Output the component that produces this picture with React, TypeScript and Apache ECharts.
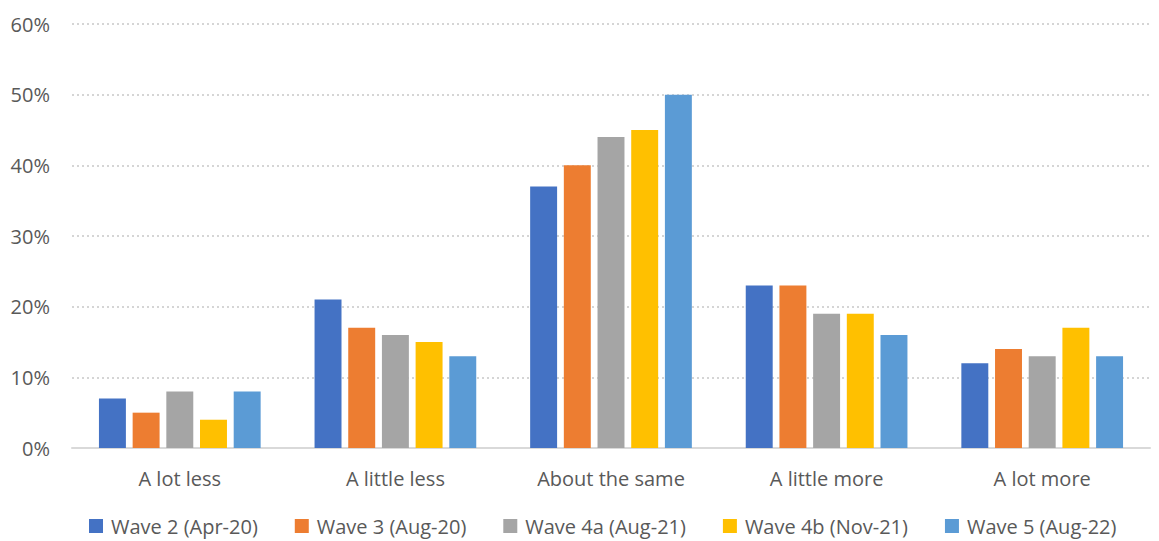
import React, { useEffect, useRef } from "react";
import * as echarts from "echarts";

const categories = ["A lot less", "A little less", "About the same", "A little more", "A lot more"];
const seriesNames = ["Wave 2 (Apr-20)", "Wave 3 (Aug-20)", "Wave 4a (Aug-21)", "Wave 4b (Nov-21)", "Wave 5 (Aug-22)"];
const wave2 = [7, 21, 37, 23, 12];
const wave3 = [5, 17, 40, 23, 14];
const wave4a = [8, 16, 44, 19, 13];
const wave4b = [4, 15, 45, 19, 17];
const wave5 = [8, 13, 50, 16, 13];
const colors = ["#4472C4", "#ED7D31", "#A5A5A5", "#FFC000", "#5B9BD5"];

export default function App() {
  const ref = useRef<HTMLDivElement>(null);
  useEffect(() => {
    if (!ref.current) return;
    const chart = echarts.init(ref.current, undefined, { renderer: "svg" });
    const data = [wave2, wave3, wave4a, wave4b, wave5];
    chart.setOption({
      animation: false,
      backgroundColor: "#ffffff",
      textStyle: { fontFamily: "Open Sans", color: "#595959" },
      grid: { left: 72, right: 9, top: 24, bottom: 93, containLabel: false },
      legend: {
        top: 511,
        left: 84,
        itemWidth: 14,
        itemHeight: 14,
        itemGap: 37,
        icon: "rect",
        textStyle: { fontSize: 20, color: "#595959", fontFamily: "Open Sans", padding: [0, 0, 0, 3] },
        data: seriesNames,
      },
      xAxis: {
        type: "category",
        data: categories,
        axisLine: { lineStyle: { color: "#D9D9D9", width: 2 } },
        axisTick: { show: false },
        axisLabel: { fontSize: 20, color: "#595959", margin: 20 },
      },
      yAxis: {
        type: "value",
        min: 0,
        max: 60,
        interval: 10,
        axisLine: { show: false },
        axisTick: { show: false },
        axisLabel: { formatter: "{value}%", fontSize: 20, color: "#595959", margin: 22 },
        splitLine: { lineStyle: { color: "#C8C8C8", type: [2, 3], width: 1.5 } },
      },
      series: seriesNames.map((name, i) => ({
        name,
        type: "bar",
        data: data[i],
        barGap: "25%",
        barCategoryGap: "25%",
        itemStyle: { color: colors[i] },
      })),
    });
    return () => chart.dispose();
  }, []);
  return <div ref={ref} style={{ position: "fixed", left: 0, top: 0, width: 1159, height: 541 }} />;
}
